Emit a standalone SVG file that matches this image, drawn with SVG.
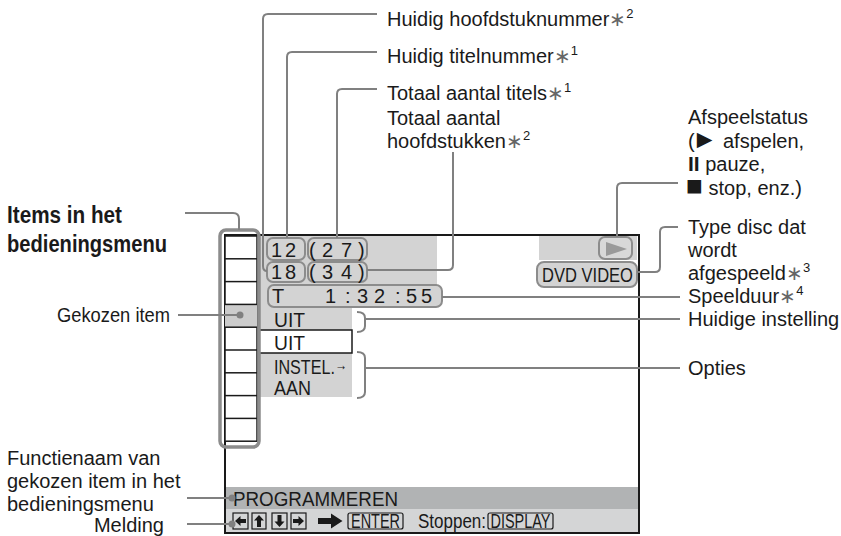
<svg xmlns="http://www.w3.org/2000/svg" width="841" height="536" viewBox="0 0 841 536">
<defs>
<style>
.lbl{font-family:"Liberation Sans",Arial,sans-serif;font-size:20px;fill:#1a1a1a}
.ttl{font-family:"Liberation Sans",Arial,sans-serif;font-size:24px;font-weight:bold;fill:#1a1a1a}
.scr{font-family:"Liberation Sans",Arial,sans-serif;font-size:20px;fill:#1a1a1a}
.ast{fill:#666}
.sup{font-size:13px}
.ln{fill:none;stroke:#808080;stroke-width:2}
.bx{fill:#d3d3d3;stroke:#8c8c8c;stroke-width:2}
.gr{fill:#d3d3d3}
.key{fill:none;stroke:#1a1a1a;stroke-width:1.2}
.dot{fill:#808080}
</style>
</defs>
<rect width="841" height="536" fill="#fff"/>

<g id="screen">
  <path class="gr" d="M259 236 H437 V307 H352 V330 H259 Z"/>
  <rect class="gr" x="259" y="353" width="93" height="44"/>
  <rect x="259" y="330" width="93" height="23" fill="#fff" stroke="#1a1a1a" stroke-width="1.5"/>
  <rect class="gr" x="539" y="236" width="98" height="24"/>
  <rect x="225" y="487" width="414" height="22" fill="#b1b3b4"/>
  <rect x="225" y="509" width="414" height="23" fill="#d4d5d6"/>
  <rect x="225" y="235" width="414" height="298" fill="none" stroke="#1a1a1a" stroke-width="2"/>
</g>

<g id="menu">
  <rect x="225" y="236" width="32" height="205.2" fill="#fff" stroke="#1a1a1a" stroke-width="1.5"/>
  <rect x="225" y="304.4" width="32" height="22.8" fill="#cccccc"/>
  <g stroke="#1a1a1a" stroke-width="1.5">
    <line x1="225" y1="258.8" x2="257" y2="258.8"/>
    <line x1="225" y1="281.6" x2="257" y2="281.6"/>
    <line x1="225" y1="304.4" x2="257" y2="304.4"/>
    <line x1="225" y1="327.2" x2="257" y2="327.2"/>
    <line x1="225" y1="350" x2="257" y2="350"/>
    <line x1="225" y1="372.8" x2="257" y2="372.8"/>
    <line x1="225" y1="395.6" x2="257" y2="395.6"/>
    <line x1="225" y1="418.4" x2="257" y2="418.4"/>
  </g>
  <rect x="220" y="230" width="39" height="217" rx="6" fill="none" stroke="#8c8c8c" stroke-width="3.5"/>
</g>

<g id="title-num">
  <rect class="bx" x="267" y="238" width="38" height="22" rx="6"/>
  <text class="scr" x="271" y="257" font-size="22" letter-spacing="3">12</text>
</g>
<g id="title-total">
  <rect class="bx" x="308" y="238" width="59" height="22" rx="6"/>
  <text class="scr" font-size="22" x="309 322 341 358" y="257">(27)</text>
</g>
<g id="chapter-num">
  <rect class="bx" x="267" y="262" width="38" height="20" rx="6"/>
  <text class="scr" x="271" y="279" font-size="22" letter-spacing="3">18</text>
</g>
<g id="chapter-total">
  <rect class="bx" x="308" y="262" width="59" height="20" rx="6"/>
  <text class="scr" font-size="22" x="309 322 341 358" y="279">(34)</text>
</g>
<g id="time">
  <rect class="bx" x="268" y="285" width="174" height="22" rx="6"/>
  <text class="scr" font-size="22" x="272" y="303">T</text>
  <text class="scr" font-size="22" x="325 345 357 374 395 406 421" y="303">1:32:55</text>
</g>
<g id="current">
  <text class="scr" x="274" y="327" textLength="31" lengthAdjust="spacingAndGlyphs">UIT</text>
</g>
<g id="options">
  <text class="scr" x="274" y="350" textLength="31" lengthAdjust="spacingAndGlyphs">UIT</text>
  <text class="scr" x="274" y="374" textLength="73" lengthAdjust="spacingAndGlyphs">INSTEL.<tspan font-size="15" dy="-4">→</tspan></text>
  <text class="scr" x="274" y="395" textLength="37" lengthAdjust="spacingAndGlyphs">AAN</text>
</g>
<g id="play-status">
  <rect x="599" y="237" width="33" height="22" rx="6" fill="#d8d8d8" stroke="#8c8c8c" stroke-width="2"/>
  <polygon points="606,242 606,256 627,249" fill="#9a9a9a"/>
</g>
<g id="disc-type">
  <rect class="bx" x="537" y="262" width="100" height="25" rx="7"/>
  <text class="scr" x="542" y="282" font-size="21" textLength="91" lengthAdjust="spacingAndGlyphs">DVD VIDEO</text>
</g>
<g id="function-name">
  <text class="scr" x="233" y="506" font-size="21" textLength="165" lengthAdjust="spacingAndGlyphs">PROGRAMMEREN</text>
</g>
<g id="message">
  <rect class="key" x="233" y="513" width="15" height="16"/>
  <rect class="key" x="252" y="513" width="14" height="16"/>
  <rect class="key" x="272" y="513" width="15" height="16"/>
  <rect class="key" x="291" y="513" width="15" height="16"/>
  <polygon fill="#1a1a1a" points="235,521 240.5,516 240.5,519 246,519 246,523 240.5,523 240.5,526"/>
  <polygon fill="#1a1a1a" points="259,515 264,520.5 261,520.5 261,527 257,527 257,520.5 254,520.5"/>
  <polygon fill="#1a1a1a" points="279.5,527 284.5,521.5 281.5,521.5 281.5,515 277.5,515 277.5,521.5 274.5,521.5"/>
  <polygon fill="#1a1a1a" points="304,521 298.5,516 298.5,519 293,519 293,523 298.5,523 298.5,526"/>
  <polygon fill="#1a1a1a" points="318,518 331,518 331,513.5 342.5,521 331,528.5 331,524 318,524"/>
  <rect class="key" x="348" y="513" width="55" height="16" rx="2"/>
  <text class="scr" x="351" y="527.5" font-size="18.5" textLength="49" lengthAdjust="spacingAndGlyphs">ENTER</text>
  <text class="scr" x="418" y="528" font-size="21" textLength="68" lengthAdjust="spacingAndGlyphs">Stoppen:</text>
  <rect class="key" x="488" y="513" width="65" height="16" rx="2"/>
  <text class="scr" x="490.5" y="527.5" font-size="18.5" textLength="60" lengthAdjust="spacingAndGlyphs">DISPLAY</text>
</g>

<g id="labels">
  <text class="lbl" x="387" y="26">Huidig hoofdstuknummer<tspan class="ast">∗</tspan><tspan class="sup" dy="-8">2</tspan></text>
  <text class="lbl" x="387" y="63">Huidig titelnummer<tspan class="ast">∗</tspan><tspan class="sup" dy="-8">1</tspan></text>
  <text class="lbl" x="387" y="100">Totaal aantal titels<tspan class="ast">∗</tspan><tspan class="sup" dy="-8">1</tspan></text>
  <text class="lbl" x="387" y="125">Totaal aantal</text>
  <text class="lbl" x="387" y="148">hoofdstukken<tspan class="ast">∗</tspan><tspan class="sup" dy="-8">2</tspan></text>
  <text class="lbl" x="688" y="124">Afspeelstatus</text>
  <text class="lbl" x="688" y="148">(<tspan font-size="26" dx="-3">►</tspan> afspelen,</text>
  <text class="lbl" x="688" y="171"><tspan font-weight="bold" font-size="21">II</tspan> pauze,</text>
  <text class="lbl" x="686" y="195"><tspan font-size="28">■</tspan> stop, enz.)</text>
  <text class="lbl" x="688" y="234">Type disc dat</text>
  <text class="lbl" x="688" y="257">wordt</text>
  <text class="lbl" x="688" y="280">afgespeeld<tspan class="ast">∗</tspan><tspan class="sup" dy="-8">3</tspan></text>
  <text class="lbl" x="688" y="303">Speelduur<tspan class="ast">∗</tspan><tspan class="sup" dy="-8">4</tspan></text>
  <text class="lbl" x="688" y="326">Huidige instelling</text>
  <text class="lbl" x="688" y="375">Opties</text>
  <text class="ttl" x="7" y="223" textLength="115" lengthAdjust="spacingAndGlyphs">Items in het</text>
  <text class="ttl" x="7" y="252" textLength="160" lengthAdjust="spacingAndGlyphs">bedieningsmenu</text>
  <text class="lbl" x="170" y="322" text-anchor="end" textLength="113" lengthAdjust="spacingAndGlyphs">Gekozen item</text>
  <text class="lbl" x="7" y="465" font-size="20.8">Functienaam van</text>
  <text class="lbl" x="7" y="488" font-size="20.8">gekozen item in het</text>
  <text class="lbl" x="7" y="511" font-size="20.8">bedieningsmenu</text>
  <text class="lbl" x="164" y="532" text-anchor="end" font-size="20.8">Melding</text>
</g>

<g id="connectors">
  <path class="ln" d="M377 14 H268 Q263 14 263 19 V266 Q263 271 267 271"/>
  <path class="ln" d="M377 52 H292 Q287 52 287 57 V238"/>
  <path class="ln" d="M377 89 H342 Q337 89 337 94 V238"/>
  <path class="ln" d="M453 152 V265 Q453 270 448 270 H367"/>
  <path class="ln" d="M185 213 H233 Q239 213 239 219 V230" stroke-width="3.5"/>
  <path class="ln" d="M178 315 H240"/>
  <circle class="dot" cx="240" cy="315" r="3.5"/>
  <path class="ln" d="M678 183 H622 Q617 183 617 188 V237"/>
  <path class="ln" d="M678 227 H665 Q660 227 660 232 V267 Q660 272 655 272 H637"/>
  <path class="ln" d="M442 297 H680"/>
  <path class="ln" d="M357 312 Q365 312 365 318 V326 Q365 332 357 332"/>
  <path class="ln" d="M365 319 H680"/>
  <path class="ln" d="M357 352 Q365 352 365 358 V392 Q365 398 357 398"/>
  <path class="ln" d="M365 368 H680"/>
  <path class="ln" d="M187 498 H232"/>
  <circle class="dot" cx="232" cy="498" r="3.5"/>
  <path class="ln" d="M187 524 H232"/>
  <circle class="dot" cx="232" cy="524" r="3.5"/>
</g>
</svg>
